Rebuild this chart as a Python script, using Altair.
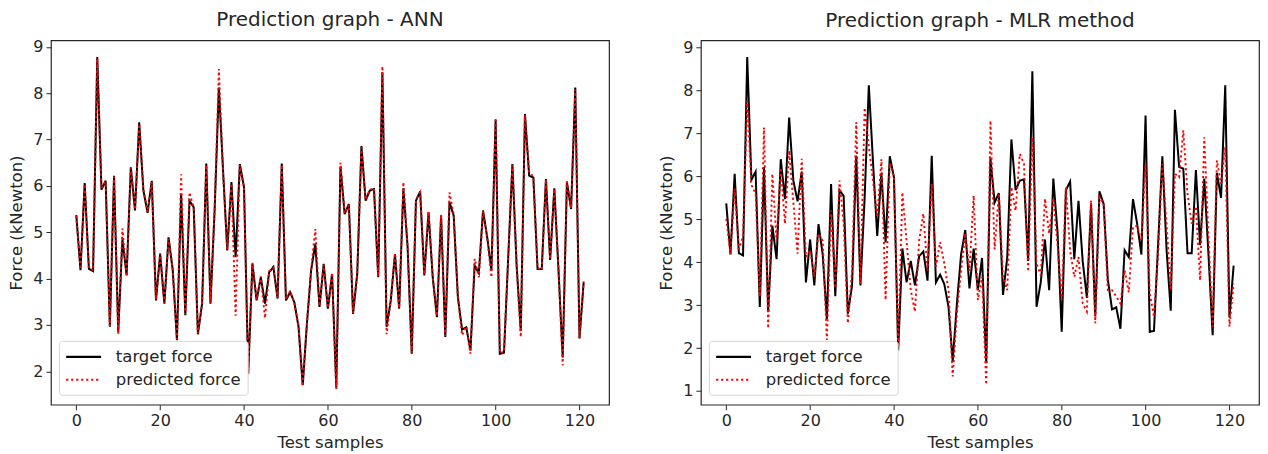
import altair as alt
import pandas as pd

samples = list(range(122))

target_force = [
    5.37, 4.18, 6.06, 4.21, 4.16, 8.78, 5.92, 6.11, 2.96, 6.22,
    2.85, 4.85, 4.07, 6.40, 5.47, 7.37, 5.90, 5.42, 6.11, 3.53,
    4.53, 3.46, 4.89, 4.18, 2.67, 5.82, 3.21, 5.68, 5.54, 2.80,
    3.46, 6.48, 3.46, 5.50, 8.12, 6.33, 4.61, 6.08, 4.46, 6.47,
    5.97, 1.95, 4.32, 3.53, 4.03, 3.46, 4.14, 4.25, 3.57, 6.48,
    3.53, 3.71, 3.49, 2.96, 1.70, 3.03, 4.18, 4.75, 3.39, 4.32,
    3.35, 4.10, 1.65, 6.42, 5.39, 5.61, 3.24, 4.10, 6.86, 5.68,
    5.90, 5.93, 4.03, 8.45, 2.96, 3.53, 4.53, 3.35, 5.95, 4.70,
    2.38, 5.68, 5.88, 4.07, 5.43, 4.03, 3.17, 5.36, 2.74, 5.65,
    5.36, 3.60, 2.90, 2.95, 2.45, 4.28, 4.12, 5.47, 4.89, 4.18,
    7.42, 2.38, 2.40, 4.45, 6.47, 4.30, 2.87, 7.55, 6.22, 6.18,
    4.21, 4.21, 6.15, 4.40, 5.95, 4.18, 2.30, 6.08, 5.50, 8.12,
    2.71, 3.92,
]

ann_predicted = [
    5.35, 4.20, 6.03, 4.22, 4.18, 8.75, 5.95, 6.09, 2.98, 6.20,
    2.80, 5.08, 4.05, 6.38, 5.49, 7.33, 5.92, 5.44, 6.08, 3.55,
    4.55, 3.48, 4.86, 4.20, 2.70, 6.25, 3.23, 5.86, 5.52, 2.82,
    3.48, 6.45, 3.48, 5.52, 8.52, 6.30, 4.63, 6.05, 3.20, 6.45,
    5.95, 1.97, 4.34, 3.55, 4.05, 3.15, 4.16, 4.23, 3.59, 6.45,
    3.55, 3.73, 3.47, 2.98, 1.68, 3.05, 4.20, 5.07, 3.41, 4.30,
    3.37, 4.12, 1.62, 6.50, 5.41, 5.59, 3.26, 4.12, 6.83, 5.70,
    5.92, 5.95, 4.05, 8.58, 2.80, 3.55, 4.55, 3.37, 6.08, 4.72,
    2.40, 5.70, 5.86, 4.09, 5.45, 4.05, 3.19, 5.38, 2.76, 5.86,
    5.38, 3.62, 2.78, 2.97, 2.38, 4.43, 4.03, 5.45, 4.87, 4.03,
    7.47, 2.40, 2.42, 4.43, 6.45, 4.32, 2.74, 7.52, 6.30, 6.20,
    4.23, 4.19, 6.13, 4.42, 5.93, 4.20, 2.13, 6.10, 5.52, 8.08,
    2.73, 3.94,
]

mlr_predicted = [
    5.01, 4.20, 5.71, 4.30, 4.60, 7.76, 5.80, 5.60, 3.20, 7.14,
    2.46, 6.06, 4.50, 6.20, 4.90, 6.60, 5.40, 4.20, 6.41, 4.12,
    4.28, 3.66, 4.67, 4.50, 2.19, 5.20, 3.40, 5.90, 4.90, 2.58,
    3.80, 7.26, 3.50, 7.60, 6.70, 5.90, 5.05, 6.40, 3.12, 6.30,
    6.00, 2.03, 5.63, 4.50, 3.35, 2.85, 4.50, 5.13, 3.80, 5.83,
    3.90, 4.47, 3.97, 3.35, 1.34, 2.80, 3.80, 4.67, 3.80, 5.55,
    3.12, 3.66, 1.15, 7.30, 4.30, 5.60, 3.66, 3.35, 5.75, 5.20,
    6.52, 6.30, 3.78, 6.90, 3.97, 3.70, 5.48, 4.67, 5.50, 4.40,
    3.12, 5.75, 4.28, 3.66, 4.12, 3.04, 2.85, 5.44, 2.58, 5.52,
    5.36, 3.35, 3.35, 3.20, 3.04, 3.81, 3.30, 4.82, 4.85, 4.50,
    6.29, 3.27, 2.73, 4.20, 6.29, 4.90, 3.35, 6.06, 5.98, 7.07,
    5.60, 4.90, 5.30, 3.58, 6.91, 4.60, 2.50, 6.37, 5.83, 6.68,
    2.50, 3.50,
]

series_names = ["target force", "predicted force"]
x_ticks = [0, 20, 40, 60, 80, 100, 120]
left_y_ticks = [2, 3, 4, 5, 6, 7, 8, 9]
right_y_ticks = [1, 2, 3, 4, 5, 6, 7, 8, 9]

FONT = "DejaVu Sans"
TEXT = "#262626"


def legend():
    return alt.Legend(
        title=None, orient="none", legendX=8, legendY=301,
        fillColor="white", strokeColor="#d4d4d4", cornerRadius=3,
        padding=6, symbolType="M-1,0H3", symbolSize=306,
        symbolStrokeWidth=2.2, labelFontSize=16.5, labelFont=FONT,
        labelColor=TEXT, rowPadding=4, labelOffset=31,
    )


def make_panel(predicted, title, y_domain, y_ticks):
    df = pd.DataFrame({
        "sample": samples * 2,
        "force": target_force + predicted,
        "series": [series_names[0]] * len(samples) + [series_names[1]] * len(samples),
    })
    color = alt.Color(
        "series:N",
        scale=alt.Scale(domain=series_names, range=["black", "red"]),
        legend=legend(),
    )
    dash = alt.StrokeDash(
        "series:N",
        scale=alt.Scale(domain=series_names, range=[[1, 0], [2.2, 2.8]]),
        legend=legend(),
    )
    x = alt.X(
        "sample:Q",
        scale=alt.Scale(domain=[-6.05, 127.05], nice=False, zero=False),
        axis=alt.Axis(values=x_ticks, title="Test samples", grid=False, format="d",
                      titlePadding=6),
    )
    y = alt.Y(
        "force:Q",
        scale=alt.Scale(domain=y_domain, nice=False, zero=False),
        axis=alt.Axis(values=y_ticks, title="Force (kNewton)", grid=False, format="d",
                      titlePadding=8),
    )
    base = alt.Chart(df)
    target_layer = base.transform_filter(alt.datum.series == series_names[0]).mark_line(
        strokeWidth=2, clip=True
    ).encode(x=x, y=y, color=color, strokeDash=dash)
    pred_layer = base.transform_filter(alt.datum.series == series_names[1]).mark_line(
        strokeWidth=1.9, clip=True
    ).encode(x=x, y=y, color=color, strokeDash=dash)
    return alt.layer(target_layer, pred_layer).properties(
        width=559, height=365,
        title=alt.TitleParams(title, fontSize=20, font=FONT, fontWeight="normal",
                              color=TEXT, offset=9),
    )


left = make_panel(ann_predicted, "Prediction graph - ANN", [1.28, 9.14], left_y_ticks)
right = make_panel(mlr_predicted, "Prediction graph - MLR method", [0.68, 9.17], right_y_ticks)

chart = alt.hconcat(left, right, spacing=48).resolve_legend(
    color="independent", strokeDash="independent"
).configure(padding={"left": 0, "top": 0, "right": 0, "bottom": 0}).configure_view(
    stroke="#262626", strokeWidth=1.2
).configure_axis(
    domain=False, tickColor=TEXT, tickSize=5, labelFontSize=16, labelFont=FONT,
    labelColor=TEXT, titleFontSize=16.5, titleFont=FONT, titleFontWeight="normal",
    titleColor=TEXT, labelPadding=3,
)

chart.save("out.html", embed_options={"renderer": "svg", "actions": False})
